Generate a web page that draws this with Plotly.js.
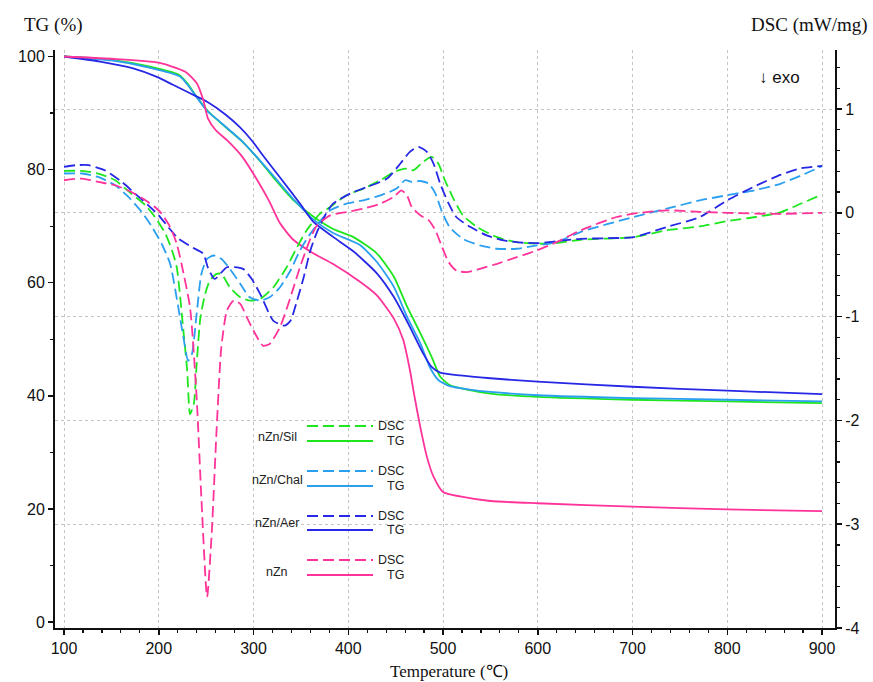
<!DOCTYPE html>
<html>
<head>
<meta charset="utf-8">
<script src="https://cdn.plot.ly/plotly-3.0.1.min.js"></script>
<style>html,body{margin:0;padding:0;background:#fff;}#chart{width:873px;height:682px;}</style>
</head>
<body>
<div id="chart"></div>
<script>
// ---------- TG data (%) ----------
const T_Sil_TG  = [100,150,191,222,230,240,251,265,288,309,323,342,363,384,405,430,448,462,476,488,497,507,528,550,600,700,800,900];
const Sil_TG    = [100,99.4,98.2,96.7,95.3,92.9,90.5,88.3,85.0,81.1,78.2,74.6,71.7,69.5,68.1,65.2,61.1,55.8,51.1,46.9,43.4,41.9,41.0,40.4,39.8,39.3,39.0,38.7];

const T_Chal_TG = [100,150,191,222,230,240,251,265,288,309,323,342,363,384,412,430,448,462,476,486,495,507,528,550,600,700,800,900];
const Chal_TG   = [100,99.3,98.0,96.5,95.1,92.8,90.4,88.4,85.0,81.2,78.5,74.8,71.2,68.8,66.7,63.7,59.3,54.0,49.3,45.1,42.8,41.7,41.1,40.7,40.1,39.6,39.3,39.0];

const T_Aer_TG  = [100,138,173,198,215,233,251,270,285,298,310,328,349,363,384,405,430,448,465,479,488,497,518,550,600,700,800,900];
const Aer_TG    = [100,99.1,97.9,96.4,95.0,93.5,92.0,89.8,87.6,85.2,82.5,78.6,74.0,70.8,68.1,65.6,61.7,57.5,52.2,47.5,45.1,44.1,43.6,43.1,42.5,41.6,40.9,40.3];

const T_nZn_TG  = [100,150,200,228,240,247,252,260,272,288,302,316,328,342,363,384,412,430,448,458,465,470,476,483,490,500,518,550,600,700,800,900];
const nZn_TG    = [100,99.6,98.9,97.3,95.3,92.3,89.0,87.0,85.2,82.3,78.7,74.6,70.5,67.6,65.2,63.3,60.2,57.8,53.7,49.9,44.6,39.8,34.5,29.2,25.7,23.0,22.2,21.4,21.0,20.4,19.9,19.6];

// ---------- DSC data (mW/mg) ----------
const T_Sil_DSC = [100,119,136,154,171,186,196,207,214,219,226,230,233,237,240,244,249,254,261,266,275,286,296,307,321,335,346,356,370,381,398,416,434,448,460,469,479,488,495,502,511,521,536,557,578,599,620,645,701,736,771,800,830,856,878,900];
const Sil_DSC   = [0.404,0.404,0.379,0.314,0.185,0.072,-0.04,-0.2,-0.362,-0.524,-1.135,-1.52,-1.94,-1.84,-1.457,-1.007,-0.78,-0.652,-0.588,-0.588,-0.717,-0.814,-0.845,-0.829,-0.717,-0.524,-0.33,-0.169,-0.01,0.056,0.169,0.234,0.314,0.394,0.427,0.411,0.491,0.539,0.475,0.314,0.137,-0.024,-0.137,-0.234,-0.282,-0.298,-0.291,-0.259,-0.234,-0.169,-0.13,-0.08,-0.04,0.005,0.09,0.176];

const T_Chal_DSC = [100,119,136,154,168,182,193,203,212,226,231,235,240,245,251,258,266,275,286,296,307,317,328,339,349,360,381,398,416,434,451,460,467,476,485,492,499,507,521,539,557,578,599,620,645,701,736,771,800,830,856,878,900];
const Chal_DSC   = [0.379,0.379,0.346,0.266,0.153,0.008,-0.137,-0.298,-0.491,-1.2,-1.425,-1.36,-0.974,-0.588,-0.443,-0.411,-0.443,-0.539,-0.684,-0.814,-0.845,-0.814,-0.717,-0.556,-0.362,-0.2,0.024,0.089,0.121,0.169,0.234,0.314,0.298,0.307,0.282,0.185,0.008,-0.137,-0.25,-0.314,-0.346,-0.346,-0.314,-0.282,-0.185,-0.04,0.04,0.12,0.17,0.22,0.28,0.36,0.45];

const T_Aer_DSC = [100,112,126,143,161,175,189,200,210,221,235,247,252,259,272,289,298,307,321,333,339,346,353,360,367,377,384,402,420,441,455,465,474,483,490,497,506,514,529,546,564,585,602,627,645,670,701,736,771,800,830,856,878,900];
const Aer_DSC   = [0.443,0.459,0.459,0.41,0.298,0.185,0.072,-0.024,-0.137,-0.25,-0.33,-0.394,-0.53,-0.636,-0.524,-0.54,-0.636,-0.781,-1.04,-1.087,-1.04,-0.845,-0.62,-0.362,-0.185,0.0,0.089,0.185,0.25,0.33,0.475,0.588,0.636,0.588,0.475,0.282,0.089,-0.04,-0.137,-0.217,-0.266,-0.288,-0.291,-0.266,-0.25,-0.245,-0.234,-0.137,-0.04,0.12,0.26,0.366,0.43,0.452];

const T_nZn_DSC = [100,119,136,154,171,186,196,203,212,219,224,233,240,245,251,256,261,266,272,279,286,293,300,310,317,328,339,349,360,367,381,398,416,434,448,456,462,467,476,485,492,499,506,514,525,539,557,578,599,620,645,683,701,736,771,800,850,900];
const nZn_DSC   = [0.314,0.33,0.298,0.266,0.201,0.121,0.056,-0.008,-0.137,-0.298,-0.491,-0.91,-1.78,-2.75,-3.70,-3.07,-2.10,-1.30,-0.94,-0.845,-0.877,-1.007,-1.135,-1.28,-1.264,-1.10,-0.814,-0.524,-0.25,-0.12,-0.024,0.008,0.04,0.089,0.153,0.217,0.169,0.056,-0.024,-0.072,-0.169,-0.33,-0.475,-0.556,-0.572,-0.539,-0.491,-0.427,-0.362,-0.282,-0.169,-0.04,-0.008,0.024,0.01,0.0,-0.01,0.0];

const sampleNames = ['nZn/Sil','nZn/Chal','nZn/Aer','nZn'];
const seriesLabels = ['DSC','TG'];
const xTicks = [100,200,300,400,500,600,700,800,900];
const tgTicks = [0,20,40,60,80,100];
const dscTicks = [1,0,-1,-2,-3,-4];

const colors = {'nZn/Sil':'#1ee61e','nZn/Chal':'#2a9ff0','nZn/Aer':'#2727e6','nZn':'#ff3399'};
const tgSets = {'nZn/Sil':[T_Sil_TG,Sil_TG],'nZn/Chal':[T_Chal_TG,Chal_TG],'nZn/Aer':[T_Aer_TG,Aer_TG],'nZn':[T_nZn_TG,nZn_TG]};
const dscSets = {'nZn/Sil':[T_Sil_DSC,Sil_DSC],'nZn/Chal':[T_Chal_DSC,Chal_DSC],'nZn/Aer':[T_Aer_DSC,Aer_DSC],'nZn':[T_nZn_DSC,nZn_DSC]};

const DASH = '11px,5px';
const traces = [];
sampleNames.forEach(n => {
  traces.push({x: dscSets[n][0], y: dscSets[n][1], yaxis:'y2', type:'scatter', mode:'lines', name:n+' DSC',
    line:{color:colors[n], width:1.8, dash:DASH, shape:'spline', smoothing:0.6}, showlegend:false, hoverinfo:'skip'});
  traces.push({x: tgSets[n][0], y: tgSets[n][1], yaxis:'y', type:'scatter', mode:'lines', name:n+' TG',
    line:{color:colors[n], width:1.8, shape:'spline', smoothing:0.6}, showlegend:false, hoverinfo:'skip'});
});

// legend drawn manually (paper coordinates)
const L = 55, W = 780, B = 628, H = 578;
const px = v => (v - L) / W;
const py = v => (B - v) / H;
const legendRows = [[426,441,437],[471,486,480],[516,530,523],[560,575,572]];
const shapes = [];
const annotations = [];
const legFont = {family:'Liberation Sans, Arial', size:12.5, color:'#222'};
sampleNames.forEach((n,i) => {
  const r = legendRows[i];
  shapes.push({type:'line', xref:'paper', yref:'paper', x0:px(307), x1:px(373), y0:py(r[0]), y1:py(r[0]), line:{color:colors[n], width:1.8, dash:DASH}});
  shapes.push({type:'line', xref:'paper', yref:'paper', x0:px(307), x1:px(373), y0:py(r[1]), y1:py(r[1]), line:{color:colors[n], width:1.8}});
  annotations.push({xref:'paper', yref:'paper', x:px(277), y:py(r[2]), text:n, showarrow:false, xanchor:'center', yanchor:'middle', font:legFont});
  annotations.push({xref:'paper', yref:'paper', x:px(406), y:py(r[0]), text:seriesLabels[0], showarrow:false, xanchor:'right', yanchor:'middle', font:legFont});
  annotations.push({xref:'paper', yref:'paper', x:px(406), y:py(r[1]), text:seriesLabels[1], showarrow:false, xanchor:'right', yanchor:'middle', font:legFont});
});
annotations.push({xref:'paper', yref:'paper', x:px(22), y:py(25), text:'TG (%)', showarrow:false, xanchor:'left', yanchor:'middle', font:{family:'Liberation Serif, Times New Roman', size:19, color:'#111'}});
annotations.push({xref:'paper', yref:'paper', x:px(870), y:py(25), text:'DSC (mW/mg)', showarrow:false, xanchor:'right', yanchor:'middle', font:{family:'Liberation Serif, Times New Roman', size:19, color:'#111'}});
annotations.push({xref:'paper', yref:'paper', x:px(779), y:py(77), text:'↓ exo', showarrow:false, xanchor:'center', yanchor:'middle', font:{family:'Liberation Sans, Arial', size:17, color:'#111'}});
annotations.push({xref:'paper', yref:'paper', x:px(449), y:py(671), text:'Temperature (℃)', showarrow:false, xanchor:'center', yanchor:'middle', font:{family:'Liberation Serif, Times New Roman', size:17, color:'#111'}});

const tickFont = {family:'Liberation Sans, Arial', size:16, color:'#111'};
const layout = {
  width:873, height:682,
  margin:{l:55, r:38, t:50, b:54, pad:0},
  paper_bgcolor:'#fff', plot_bgcolor:'#fff',
  showlegend:false,
  xaxis:{range:[90.5,913.7], tickmode:'array', tickvals:xTicks, ticktext:xTicks.map(String),
    ticks:'outside', ticklen:5, tickwidth:1.5, tickcolor:'#111',
    minor:{dtick:20, tick0:100, ticklen:3, tickwidth:1.2, tickcolor:'#111', ticks:'outside', showgrid:false},
    showline:true, linecolor:'#111', linewidth:2, showgrid:true, gridcolor:'#c4c4c4', griddash:'dot', gridwidth:1,
    zeroline:false, tickfont:tickFont},
  yaxis:{range:[-1.06,101.15], tickmode:'array', tickvals:tgTicks, ticktext:tgTicks.map(String),
    ticks:'outside', ticklen:5, tickwidth:1.5, tickcolor:'#111',
    minor:{dtick:10, tick0:0, ticklen:3, tickwidth:1.2, tickcolor:'#111', ticks:'outside', showgrid:false},
    showline:true, linecolor:'#111', linewidth:2, showgrid:false, zeroline:false, tickfont:tickFont},
  yaxis2:{overlaying:'y', side:'right', range:[-4.0,1.569], tickmode:'array', tickvals:dscTicks, ticktext:dscTicks.map(String),
    ticks:'outside', ticklen:5, tickwidth:1.5, tickcolor:'#111',
    minor:{dtick:0.2, tick0:0, ticklen:3, tickwidth:1.2, tickcolor:'#111', ticks:'outside', showgrid:false},
    showline:true, linecolor:'#111', linewidth:2, showgrid:true, gridcolor:'#c4c4c4', griddash:'dot', gridwidth:1,
    zeroline:false, tickfont:tickFont},
  shapes: shapes,
  annotations: annotations
};
Plotly.newPlot('chart', traces, layout, {displayModeBar:false, staticPlot:true});
</script>
</body>
</html>
